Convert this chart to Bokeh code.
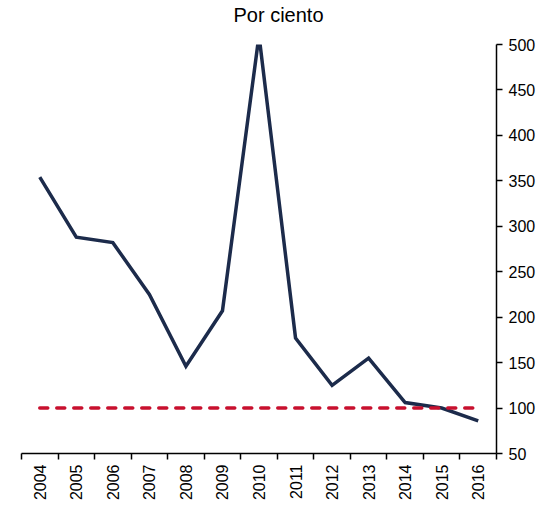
from bokeh.plotting import figure
from bokeh.models import Range1d, FixedTicker, Title
from bokeh.embed import file_html
from bokeh.resources import INLINE

years = [2004, 2005, 2006, 2007, 2008, 2009, 2010, 2011, 2012, 2013, 2014, 2015, 2016]
ratio = [354, 288, 282, 225, 146, 207, 510, 177, 125, 155, 106, 100, 86]
target = [100, 100, 100, 100, 100, 100, 100, 100, 100, 100, 100, 100, 100]
y_ticks = [50, 100, 150, 200, 250, 300, 350, 400, 450, 500]
title_text = "Por ciento"

FONT = "Liberation Sans"

p = figure(width=538, height=506, output_backend="svg", toolbar_location=None,
           x_range=Range1d(years[0] - 0.5, years[-1] + 0.5),
           y_range=Range1d(y_ticks[0], y_ticks[-1]),
           y_axis_location="right")

p.min_border_left = 21
p.min_border_top = 44
p.min_border_bottom = 53
p.min_border_right = 5
p.outline_line_color = None
p.xgrid.grid_line_color = None
p.ygrid.grid_line_color = None
p.background_fill_color = "white"

p.line(years, ratio, line_color="#1c2b4b", line_width=3.5, line_join="miter")
p.line(years, target, line_color="#c8102e", line_width=3.5, line_dash="8 9",
       line_cap="round")

# spacer between the title and the plot area
p.add_layout(Title(text=" ", text_font_size="1px", standoff=16), "above")
p.add_layout(Title(text=title_text, align="left", offset=212, standoff=0,
                   text_font=FONT, text_font_size="20px", text_font_style="normal",
                   text_color="#000000"), "above")

xa = p.xaxis[0]
xa.ticker = FixedTicker(ticks=years, minor_ticks=[y - 0.5 for y in years] + [years[-1] + 0.5])
xa.major_tick_line_color = None
xa.major_tick_out = 6
xa.major_tick_in = 0
xa.minor_tick_line_color = "black"
xa.minor_tick_out = 6
xa.minor_tick_in = 0
xa.minor_tick_line_width = 1.5
xa.axis_line_color = "black"
xa.axis_line_width = 1.5
xa.major_label_orientation = 1.5707963
xa.major_label_text_font = FONT
xa.major_label_text_font_size = "16px"
xa.major_label_text_color = "black"
xa.major_label_standoff = 5

ya = p.yaxis[0]
ya.ticker = FixedTicker(ticks=y_ticks)
ya.minor_tick_line_color = None
ya.major_tick_out = 6
ya.major_tick_in = 0
ya.major_tick_line_width = 1.5
ya.axis_line_width = 1.5
ya.major_label_text_font = FONT
ya.major_label_text_font_size = "16px"
ya.major_label_text_color = "black"
ya.major_label_standoff = 6

open("out.html", "w").write(file_html(p, INLINE))
